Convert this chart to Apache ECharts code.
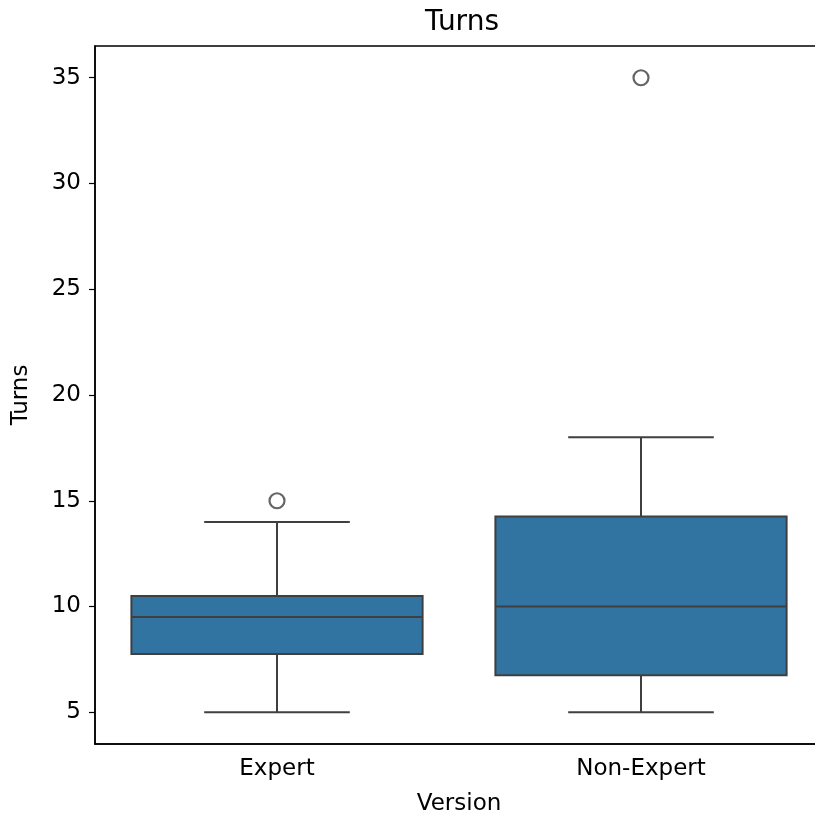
<!DOCTYPE html>
<html>
<head>
<meta charset="utf-8">
<script src="https://cdn.jsdelivr.net/npm/echarts@6/dist/echarts.min.js"></script>
<style>html,body{margin:0;padding:0;background:#fff;}#c{width:815px;height:820px;}</style>
</head>
<body>
<div id="c"></div>
<script>
var categories = ['Expert', 'Non-Expert'];
var whiskerLow = [5, 5];
var q1 = [7.75, 6.75];
var median = [9.5, 10];
var q3 = [10.5, 14.25];
var whiskerHigh = [14, 18];
var outliers = [[0, 15], [1, 35]];
var yTicks = [5, 10, 15, 20, 25, 30, 35];

var boxData = categories.map(function (c, i) {
  return [i, whiskerLow[i], q1[i], median[i], q3[i], whiskerHigh[i]];
});

var FONT = 'DejaVu Sans';
var LINE = '#3f3f3f';
var FILL = '#3274a1';

var chart = echarts.init(document.getElementById('c'), null, {renderer: 'canvas'});
chart.setOption({
  animation: false,
  backgroundColor: '#fff',
  title: {
    text: 'Turns', left: 457, top: 4, textAlign: 'center',
    textStyle: {fontFamily: FONT, fontSize: 28, fontWeight: 'normal', color: '#000'}
  },
  grid: {left: 95, top: 46, width: 728, height: 698, show: true, borderColor: '#000', borderWidth: 1.5,
    containLabel: false, outerBoundsMode: 'none'},
  xAxis: {
    type: 'category', data: categories, boundaryGap: true,
    name: 'Version', nameLocation: 'middle', nameGap: 49,
    nameTextStyle: {fontFamily: FONT, fontSize: 23, color: '#000'},
    axisLine: {lineStyle: {color: '#000', width: 1.5}},
    axisTick: {alignWithLabel: true, length: 6, lineStyle: {color: '#000', width: 1.2}},
    axisLabel: {fontFamily: FONT, fontSize: 23, color: '#000', margin: 14},
    splitLine: {show: false}
  },
  yAxis: {
    type: 'value', min: 3.5, max: 36.5,
    name: 'Turns', nameLocation: 'middle', nameRotate: 90, nameGap: 62,
    nameTextStyle: {fontFamily: FONT, fontSize: 23, color: '#000'},
    axisLine: {show: true, lineStyle: {color: '#000', width: 1.5}},
    axisTick: {show: true, length: 6, customValues: yTicks, lineStyle: {color: '#000', width: 1.2}},
    axisLabel: {fontFamily: FONT, fontSize: 23, color: '#000', margin: 14, customValues: yTicks},
    splitLine: {show: false}
  },
  series: [{
    type: 'custom',
    data: boxData,
    encode: {x: 0, y: [1, 2, 3, 4, 5]},
    renderItem: function (params, api) {
      var i = api.value(0);
      var band = api.size([1, 0])[0];
      var bw = band * 0.8;
      var cw = bw * 0.5;
      var pLow = api.coord([i, api.value(1)]);
      var pQ1 = api.coord([i, api.value(2)]);
      var pMed = api.coord([i, api.value(3)]);
      var pQ3 = api.coord([i, api.value(4)]);
      var pHigh = api.coord([i, api.value(5)]);
      var x = pMed[0];
      var ls = {stroke: LINE, lineWidth: 2};
      return {
        type: 'group',
        children: [
          {type: 'line', shape: {x1: x, y1: pLow[1], x2: x, y2: pQ1[1]}, style: ls},
          {type: 'line', shape: {x1: x, y1: pQ3[1], x2: x, y2: pHigh[1]}, style: ls},
          {type: 'line', shape: {x1: x - cw / 2, y1: pLow[1], x2: x + cw / 2, y2: pLow[1]}, style: ls},
          {type: 'line', shape: {x1: x - cw / 2, y1: pHigh[1], x2: x + cw / 2, y2: pHigh[1]}, style: ls},
          {type: 'rect', shape: {x: x - bw / 2, y: pQ3[1], width: bw, height: pQ1[1] - pQ3[1]},
            style: {fill: FILL, stroke: LINE, lineWidth: 2}},
          {type: 'line', shape: {x1: x - bw / 2, y1: pMed[1], x2: x + bw / 2, y2: pMed[1]}, style: ls}
        ]
      };
    }
  }, {
    type: 'scatter',
    data: outliers,
    symbol: 'circle',
    symbolSize: 15,
    itemStyle: {color: '#fff', borderColor: LINE, borderWidth: 2.2}
  }]
});
</script>
</body>
</html>
